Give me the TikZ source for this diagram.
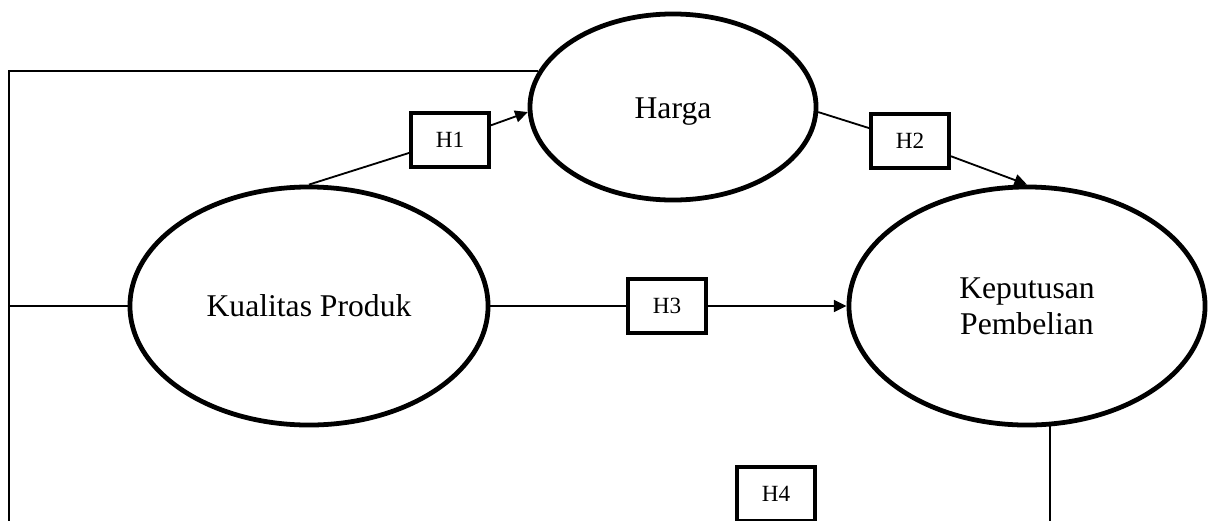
\documentclass[tikz,border=0pt]{standalone}
\usepackage{fontspec}
\setmainfont{Liberation Serif}
\usetikzlibrary{shapes.geometric,arrows.meta}
\tikzset{
  construct/.style={ellipse, draw, line width=3.4pt, inner sep=0pt, align=center,
    font=\fontsize{22.5}{25.5}\selectfont},
  hypbox/.style={rectangle, draw, line width=2.8pt, inner sep=0pt,
    minimum width=1.95cm, minimum height=1.35cm, font=\fontsize{16.5}{19}\selectfont},
  link/.style={line width=1.3pt},
  arrowlink/.style={line width=1.3pt, -{Triangle[length=9pt,width=8.5pt]}}
}
\begin{document}
\begin{tikzpicture}[x=0.025cm, y=-0.025cm]
  \useasboundingbox (0,0) rectangle (1208,520);
  % constructs
  \node[construct, minimum width=8.95cm, minimum height=5.95cm] (kp) at (309,306) {Kualitas Produk};
  \node[construct, minimum width=7.15cm, minimum height=4.65cm, text depth=0pt] (harga) at (673,107) {\raisebox{-1.5pt}{Harga}};
  \node[construct, minimum width=8.9cm, minimum height=5.95cm] (kep) at (1027,306) {Keputusan\\Pembelian};
  % hypothesis boxes
  \node[hypbox] (h1) at (450,140) {H1};
  \node[hypbox] (h2) at (910,141) {H2};
  \node[hypbox] (h3) at (667,306) {H3};
  \node[hypbox] (h4) at (776,494) {H4};
  % frame helpers
  \coordinate (L) at (9,0);
  \coordinate (B) at (0,530);
  % connectors
  \draw[link] (kp.north) -- (h1);
  \draw[arrowlink] (h1) -- (harga.182.5);
  \draw[link] (harga.-2.5) -- (h2);
  \draw[arrowlink] (h2) -- (kep.north);
  \draw[link] (kp) -- (h3);
  \draw[arrowlink] (h3) -- (kep);
  \draw[link] (harga.165.5) -- (harga.165.5 -| L) -- (L |- B);
  \draw[link] (kp.west) -- (kp.west -| L);
  \draw[link] (kep.-79.4) -- (kep.-79.4 |- B);
\end{tikzpicture}
\end{document}
